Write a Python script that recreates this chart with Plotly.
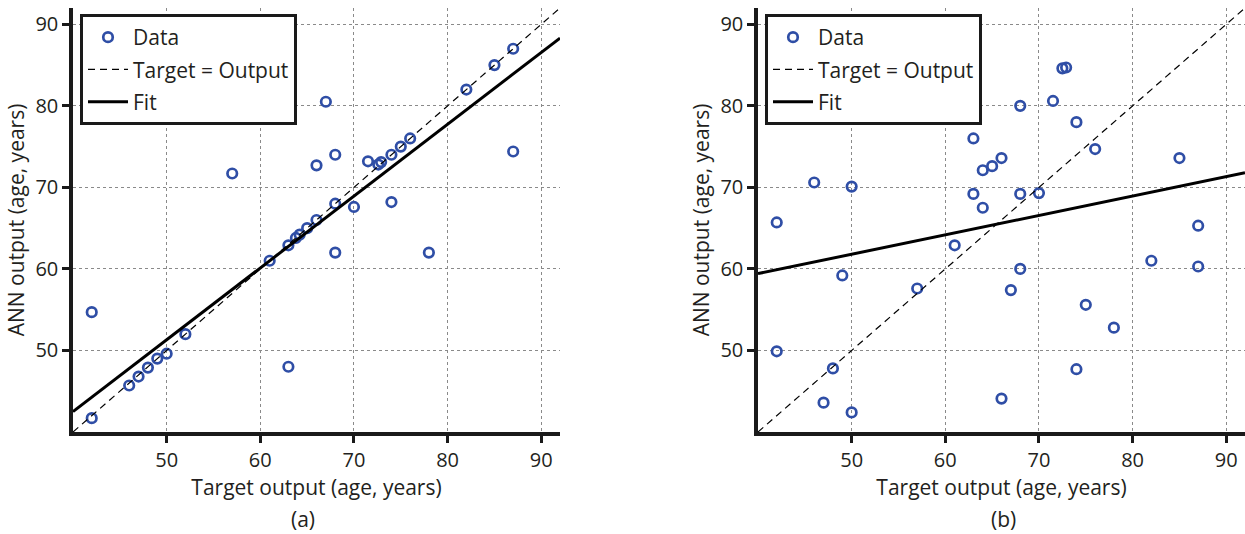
import plotly.graph_objects as go
import numpy as np

# ---------------- data ----------------
target_a = [42, 42, 46, 47, 48, 49, 50, 52, 57, 61, 63, 63, 63.8, 64.2, 65, 66, 66, 67,
            68, 68, 68, 70, 71.5, 72.6, 72.9, 74, 74, 75, 76, 78, 82, 85, 87, 87]
ann_a = [41.7, 54.7, 45.7, 46.8, 47.9, 49.0, 49.6, 52.0, 71.7, 61.0, 62.9, 48.0, 63.8, 64.2, 65.0, 66.0, 72.7, 80.5,
         74.0, 68.0, 62.0, 67.6, 73.2, 72.8, 73.1, 74.0, 68.2, 75.0, 76.0, 62.0, 82.0, 85.0, 87.0, 74.4]

target_b = [42, 42, 46, 47, 48, 49, 50, 50, 57, 61, 63, 63, 64, 64, 65, 66, 66, 67,
            68, 68, 68, 70, 71.5, 72.5, 72.9, 74, 74, 75, 76, 78, 82, 85, 87, 87]
ann_b = [65.7, 49.9, 70.6, 43.6, 47.8, 59.2, 70.1, 42.4, 57.6, 62.9, 76.0, 69.2, 72.1, 67.5, 72.6, 73.6, 44.1, 57.4,
         80.0, 69.2, 60.0, 69.3, 80.6, 84.6, 84.7, 78.0, 47.7, 55.6, 74.7, 52.8, 61.0, 73.6, 65.3, 60.3]

# fitted lines (slope, intercept)
fit_a = (0.881, 7.26)
fit_b = (0.238, 49.9)

axis_range = [40, 92]
tick_vals = [50, 60, 70, 80, 90]
tick_text = ["50", "60", "70", "80", "90"]

# ---------------- figure ----------------
FONT = "Open Sans"
BLUE = "#2f4ea6"
TXT = "#231f20"

fig = go.Figure()

def add_panel(xs, ys, fit, xa, ya, legend):
    xr = np.array(axis_range, dtype=float)
    fig.add_trace(go.Scatter(
        x=xs, y=ys, mode="markers", name="Data",
        marker=dict(symbol="circle-open", size=9.5, color=BLUE, line=dict(width=2.7, color=BLUE)),
        xaxis=xa, yaxis=ya, legend=legend, legendgroup=legend + "d"))
    fig.add_trace(go.Scatter(
        x=xr, y=xr, mode="lines", name="Target = Output",
        line=dict(color="black", width=1.2, dash="7px,5px"),
        xaxis=xa, yaxis=ya, legend=legend, legendgroup=legend + "t"))
    fig.add_trace(go.Scatter(
        x=xr, y=fit[0] * xr + fit[1], mode="lines", name="Fit",
        line=dict(color="black", width=3),
        xaxis=xa, yaxis=ya, legend=legend, legendgroup=legend + "f"))

add_panel(target_a, ann_a, fit_a, "x", "y", "legend")
add_panel(target_b, ann_b, fit_b, "x2", "y2", "legend2")

W, H = 1245, 534
ML, MR, MT, MB = 0, 0, 8, 102

axis_common = dict(
    range=axis_range, tickvals=tick_vals, ticktext=tick_text,
    showline=True, linecolor="#1a1a1a", linewidth=3.5,
    ticks="outside", ticklen=7, tickwidth=3, tickcolor="#1a1a1a",
    showgrid=True, gridcolor="#8a8a8a", griddash="dot", gridwidth=1.3,
    zeroline=False, mirror=False,
    tickfont=dict(family=FONT, size=20, color=TXT),
)

legend_common = dict(
    xanchor="left", yanchor="top",
    bordercolor="#1a1a1a", borderwidth=3, bgcolor="white",
    font=dict(family=FONT, size=21, color=TXT),
    tracegroupgap=2, traceorder="grouped", itemwidth=40,
)

fig.update_layout(
    width=W, height=H,
    margin=dict(l=ML, r=MR, t=MT, b=MB),
    paper_bgcolor="white", plot_bgcolor="white",
    font=dict(family=FONT, color=TXT),
    xaxis=dict(domain=[73 / W, 560 / W], anchor="y",
               title=dict(text="Target output (age, years)", font=dict(size=21), standoff=6), **axis_common),
    yaxis=dict(domain=[0, 1], anchor="x",
               title=dict(text="ANN output (age, years)", font=dict(size=21), standoff=6), **axis_common),
    xaxis2=dict(domain=[758 / W, 1], anchor="y2",
                title=dict(text="Target output (age, years)", font=dict(size=21), standoff=6), **axis_common),
    yaxis2=dict(domain=[0, 1], anchor="x2",
                title=dict(text="ANN output (age, years)", font=dict(size=21), standoff=6), **axis_common),
    legend=dict(x=80 / W, y=1 - (14 - MT) / (H - MT - MB), **legend_common),
    legend2=dict(x=765 / W, y=1 - (14 - MT) / (H - MT - MB), **legend_common),
    showlegend=True,
)

for label, xc in (("(a)", 303), ("(b)", 1004)):
    fig.add_annotation(text=label, xref="paper", yref="paper", x=xc / W, y=-(519 - 432) / (H - MT - MB),
                       showarrow=False, xanchor="center", yanchor="middle",
                       font=dict(family=FONT, size=21, color=TXT))

fig.write_html("out.html")
